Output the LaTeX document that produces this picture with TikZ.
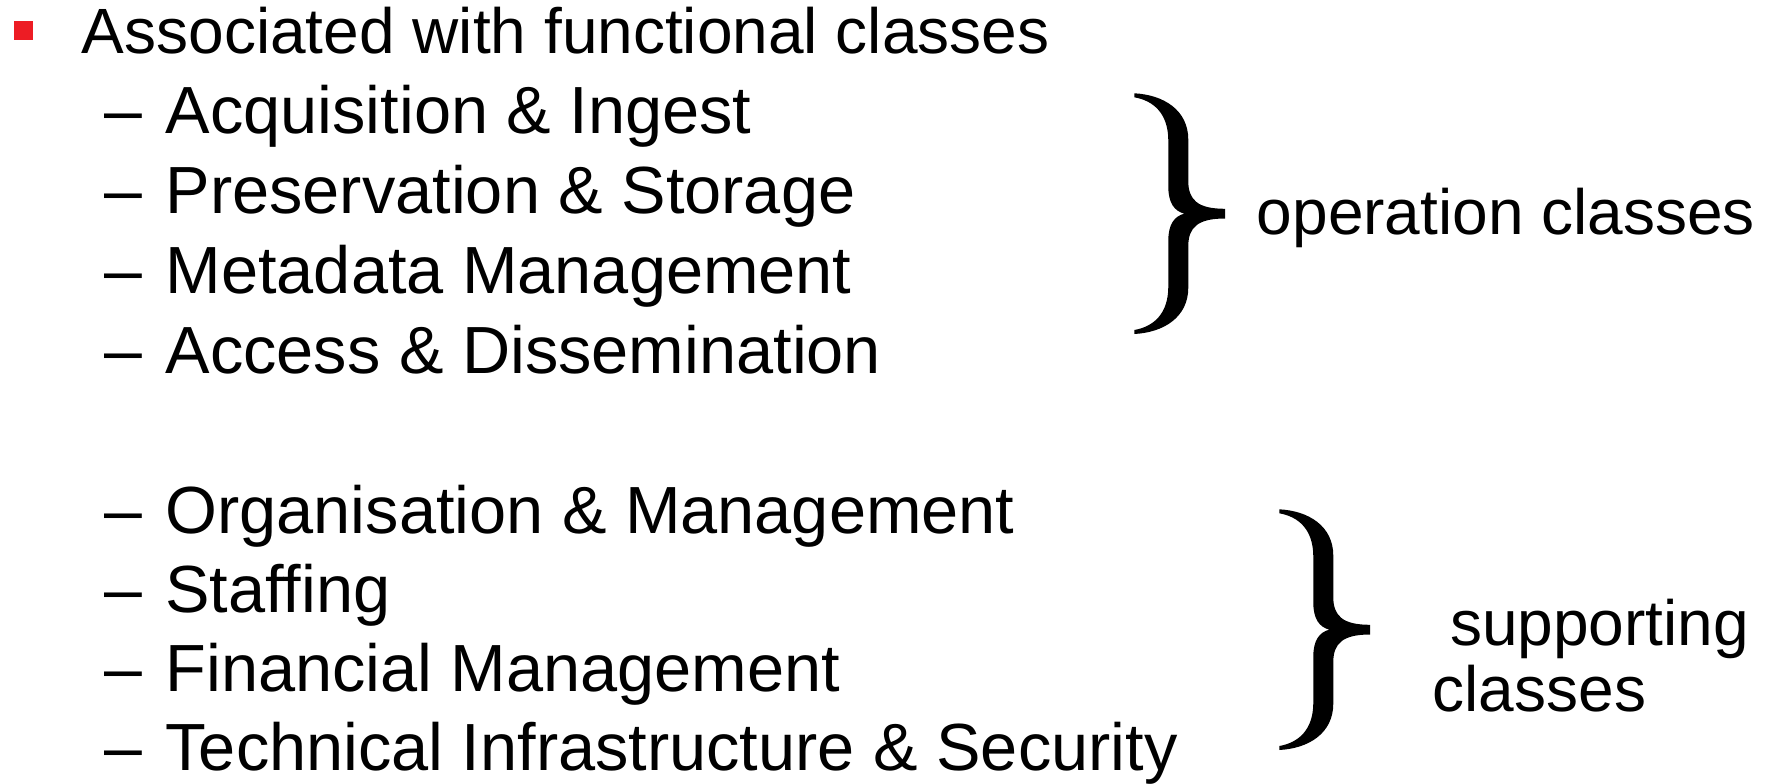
\documentclass[tikz,border=0pt]{standalone}
\usepackage{fontspec}
\setmainfont{Liberation Sans}
\definecolor{bulletred}{HTML}{ED1C24}
\begin{document}
\begin{tikzpicture}[x=1pt,y=-1pt,
  lvlone/.style={anchor=base west, inner sep=0pt, font=\fontsize{64}{70}\selectfont},
  lvltwo/.style={anchor=base west, inner sep=0pt, font=\fontsize{66.7}{72}\selectfont},
  dashmark/.style={anchor=base west, inner sep=0pt, font=\fontsize{68}{72}\selectfont},
  sidelabel/.style={anchor=base west, inner sep=0pt, font=\fontsize{64}{70}\selectfont},
  bracepic/.pic={
    \fill[black] (0,0) .. controls (29,1.5) and (54,16.5) .. (54,46.5)
      -- (54,88)
      .. controls (54,107) and (64,115.5) .. (90.7,115.5)
      -- (90.7,125.2)
      .. controls (64,125.2) and (54,133.7) .. (54,152.7)
      -- (54,194.2)
      .. controls (54,224.2) and (29,239.2) .. (0,240.7)
      -- (0,236.7)
      .. controls (19,233.4) and (34,220.7) .. (34,193.4)
      -- (34,147.4)
      .. controls (34,131) and (40,123) .. (50,120.35)
      .. controls (40,117.7) and (34,109.7) .. (34,93.3)
      -- (34,47.3)
      .. controls (34,20) and (19,7.3) .. (0,4)
      -- cycle;
  }]
\useasboundingbox (0,0) rectangle (1773,784);
\fill[white] (0,0) rectangle (1773,784);

% level one bullet
\node[fill=bulletred, minimum size=19pt, inner sep=0pt, anchor=north west] (bul) at (14,20.7) {};
\node[lvlone] (head) at (81.7,53.3) {Associated with functional classes};

% operation classes
\node[dashmark] (d1) at (104,133.3) {–};
\node[lvltwo] (o1) at (165.5,133.3) {Acquisition \& Ingest};
\node[dashmark] (d2) at (104,213.3) {–};
\node[lvltwo] (o2) at (165.5,213.3) {Preservation \& Storage};
\node[dashmark] (d3) at (104,293.4) {–};
\node[lvltwo] (o3) at (165.5,293.4) {Metadata Management};
\node[dashmark] (d4) at (104,373.5) {–};
\node[lvltwo] (o4) at (165.5,373.5) {Access \& Dissemination};

% supporting classes
\node[dashmark] (d5) at (104,533.3) {–};
\node[lvltwo] (s1) at (165.3,533.3) {Organisation \& Management};
\node[dashmark] (d6) at (104,612.2) {–};
\node[lvltwo] (s2) at (165.3,612.2) {Staffing};
\node[dashmark] (d7) at (104,691.5) {–};
\node[lvltwo] (s3) at (165.3,691.5) {Financial Management};
\node[dashmark] (d8) at (104,770.3) {–};
\node[lvltwo] (s4) at (165.3,770.3) {Technical Infrastructure \& Security};

% braces
\pic (br1) at (1134.3,93.3) {bracepic};
\pic (br2) at (1279.3,509.3) {bracepic};

% side labels
\node[sidelabel] (opl) at (1256.7,234) {operation classes};
\node[sidelabel] (supl) at (1450,645) {supporting};
\node[sidelabel] (cll) at (1432.5,711.7) {classes};
\end{tikzpicture}
\end{document}
